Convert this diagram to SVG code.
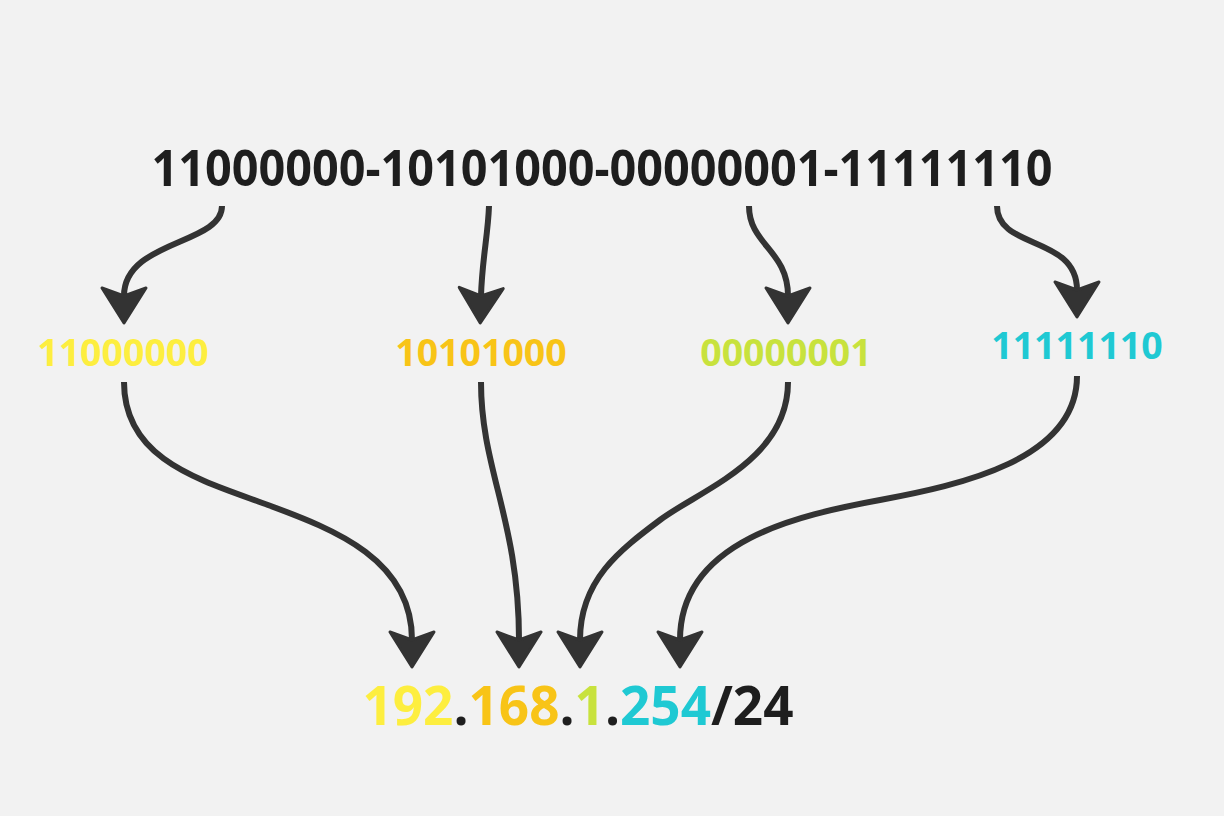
<svg xmlns="http://www.w3.org/2000/svg" width="1224" height="816" viewBox="0 0 1224 816">
<style>
.bg{fill:#f2f2f2}
.t{font-family:"Open Sans","Liberation Sans",sans-serif;font-weight:700}
.top{font-size:50px;fill:#1e1e1e}
.mid{font-size:37.5px}
.bot{font-size:53px;fill:#1e1e1e}
.c1{fill:#fdee3f}.c2{fill:#f8c417}.c3{fill:#c8e23d}.c4{fill:#1fc9d3}
.ln{fill:none;stroke:#333;stroke-width:6;stroke-linecap:butt;marker-end:url(#ah)}
</style>
<defs>
<marker id="ah" markerUnits="userSpaceOnUse" viewBox="-4 -27 44 54" markerWidth="44" markerHeight="54" refX="8" refY="0" orient="auto" overflow="visible">
<path d="M35,0 L0,-22 L8,0 L0,22 Z" fill="#333" stroke="#333" stroke-width="3" stroke-linejoin="round"/>
</marker>
</defs>
<rect class="bg" x="0" y="0" width="1224" height="816"/>
<g id="binary">
<text class="t top" x="602" y="186" text-anchor="middle" textLength="901" lengthAdjust="spacingAndGlyphs">11000000-10101000-00000001-11111110</text>
</g>
<g id="octet1"><text class="t mid c1" x="123" y="366" text-anchor="middle">11000000</text></g>
<g id="octet2"><text class="t mid c2" x="481" y="366" text-anchor="middle">10101000</text></g>
<g id="octet3"><text class="t mid c3" x="786" y="366" text-anchor="middle">00000001</text></g>
<g id="octet4"><text class="t mid c4" x="1077" y="359" text-anchor="middle">11111110</text></g>
<g id="ip">
<text class="t bot" x="578" y="725" text-anchor="middle"><tspan class="c1">192</tspan>.<tspan class="c2">168</tspan>.<tspan class="c3">1</tspan>.<tspan class="c4">254</tspan>/24</text>
</g>
<g id="connectors">
<path class="ln" d="M222,206 C222,245 124,240 124,296"/>
<path class="ln" d="M489,206 C488,235 482,260 481,296"/>
<path class="ln" d="M749,206 C749,245 788,250 788,296"/>
<path class="ln" d="M997,206 C997,250 1077,235 1077,290"/>
<path class="ln" d="M124,382 C124,460 200,480 268,505 S412,560 412,640"/>
<path class="ln" d="M481,382 C481,470 519,520 519,640"/>
<path class="ln" d="M788,382 C788,460 700,490 660,520 S580,580 580,640"/>
<path class="ln" d="M1077,376 C1077,460 960,485 880,500 S680,540 680,640"/>
</g>
</svg>
